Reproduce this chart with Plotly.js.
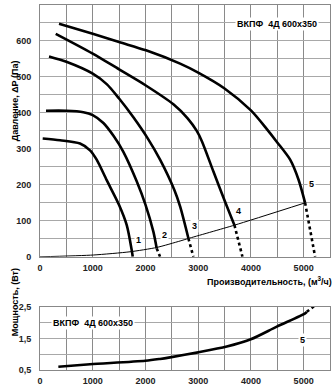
<!DOCTYPE html>
<html>
<head>
<meta charset="utf-8">
<script src="https://cdn.plot.ly/plotly-3.0.1.min.js"></script>
<style>
html,body{margin:0;padding:0;background:#fff;}
#chart{width:334px;height:387px;}
</style>
</head>
<body>
<div id="chart"></div>
<script>
// ---- Data ----
const flowTicks = [0, 1000, 2000, 3000, 4000, 5000];
const pressureTicks = [0, 100, 200, 300, 400, 500, 600];
const powerTicks = [0.5, 1.5, 2.5];
const powerTickText = ['0,5', '1,5', '2,5'];

const curve1Flow = [51, 380, 759, 949, 1075, 1265, 1500, 1645, 1739, 1759];
const curve1Pressure = [329, 324, 315, 296, 270, 213, 144, 88, 19, 0];

const curve2Flow = [114, 500, 822, 1000, 1202, 1400, 1581, 1834, 2000, 2150, 2214];
const curve2Pressure = [406, 406, 402, 394, 372, 335, 292, 210, 145, 70, 23];
const curve2DotFlow = [2214, 2277];
const curve2DotPressure = [23, 0];

const curve3Flow = [171, 500, 1000, 1265, 1500, 1771, 2040, 2277, 2550, 2657, 2815];
const curve3Pressure = [557, 542, 509, 480, 440, 388, 330, 270, 185, 140, 51];
const curve3DotFlow = [2815, 2909];
const curve3DotPressure = [51, 0];

const curve4Flow = [298, 1000, 1500, 2000, 2530, 2800, 2973, 3068, 3289, 3510, 3688];
const curve4Pressure = [620, 565, 521, 477, 424, 385, 350, 322, 237, 153, 88];
const curve4DotFlow = [3688, 3840];
const curve4DotPressure = [88, 0];

const curve5Flow = [361, 1000, 1500, 2011, 2657, 3000, 3500, 4000, 4302, 4500, 4744, 4902, 5028];
const curve5Pressure = [648, 620, 597, 574, 537, 512, 468, 407, 355, 318, 270, 215, 150];
const curve5DotFlow = [5028, 5123, 5218];
const curve5DotPressure = [150, 74, 0];

const systemFlow = [0, 1012, 1708, 2214, 2657, 2815, 3688, 5028];
const systemPressure = [0, 5, 14, 26, 44, 51, 88, 150];

const powerFlow = [348, 949, 1998, 2277, 2467, 2973, 3542, 3998, 4491, 5028, 5060];
const powerValue = [0.605, 0.68, 0.79, 0.85, 0.90, 1.05, 1.24, 1.47, 1.87, 2.29, 2.34];
const powerDotFlow = [5060, 5199];
const powerDotValue = [2.34, 2.52];

const curveLabels = ['1', '2', '3', '4', '5'];
const curveLabelFlow = [1860, 2366, 2922, 3763, 5142];
const curveLabelPressure = [46, 60, 85, 127, 202];

const modelName = 'ВКПФ  4Д 600x350';

// ---- Styling / build ----
const LW = 2.6;
function solid(x, y, ax) {
  return {x: x, y: y, xaxis: ax[0], yaxis: ax[1], mode: 'lines', type: 'scatter',
    line: {color: '#000', width: LW, shape: 'spline', smoothing: 0.8}, hoverinfo: 'skip', cliponaxis: false};
}
function dotted(x, y, ax) {
  return {x: x, y: y, xaxis: ax[0], yaxis: ax[1], mode: 'lines', type: 'scatter',
    line: {color: '#000', width: LW, dash: 'dot'}, hoverinfo: 'skip', cliponaxis: false};
}
const axTop = ['x', 'y'], axBot = ['x2', 'y2'];
const traces = [
  {x: systemFlow, y: systemPressure, xaxis: 'x', yaxis: 'y', mode: 'lines', type: 'scatter',
   line: {color: '#000', width: 1, shape: 'spline', smoothing: 0.6}, hoverinfo: 'skip'},
  solid(curve1Flow, curve1Pressure, axTop),
  solid(curve2Flow, curve2Pressure, axTop), dotted(curve2DotFlow, curve2DotPressure, axTop),
  solid(curve3Flow, curve3Pressure, axTop), dotted(curve3DotFlow, curve3DotPressure, axTop),
  solid(curve4Flow, curve4Pressure, axTop), dotted(curve4DotFlow, curve4DotPressure, axTop),
  solid(curve5Flow, curve5Pressure, axTop), dotted(curve5DotFlow, curve5DotPressure, axTop),
  solid(powerFlow, powerValue, axBot), dotted(powerDotFlow, powerDotValue, axBot)
];

const FONT = 'Liberation Sans, Arial, sans-serif';
const tickFont = {family: FONT, size: 9, color: '#222', weight: 'bold'};
const gridX = '#8a8a8a', gridY = '#a8a8a8';

function xAxis(anchor) {
  return {domain: [0, 1], anchor: anchor, range: [0, 5500], tickmode: 'array', tickvals: flowTicks,
    showgrid: true, gridcolor: gridX, gridwidth: 1, zeroline: false,
    showline: true, mirror: true, linecolor: '#888', linewidth: 1, ticks: '',
    minor: {dtick: 500, tick0: 0, showgrid: true, gridcolor: gridX, gridwidth: 1},
    tickfont: tickFont, ticklabelstandoff: 2, fixedrange: true};
}

const annotations = [];
for (let i = 0; i < curveLabels.length; i++) {
  annotations.push({x: curveLabelFlow[i], y: curveLabelPressure[i], xref: 'x', yref: 'y',
    text: curveLabels[i], showarrow: false, bgcolor: '#fff', borderpad: 1,
    font: {family: FONT, size: 9, color: '#000', weight: 'bold'}});
}
annotations.push({x: 4491, y: 648, xref: 'x', yref: 'y', text: modelName, showarrow: false,
  bgcolor: '#fff', borderpad: 1, font: {family: FONT, size: 9, color: '#000', weight: 'bold'}});
annotations.push({x: 1006, y: 2.0, xref: 'x2', yref: 'y2', text: modelName, showarrow: false,
  bgcolor: '#fff', borderpad: 1, font: {family: FONT, size: 9, color: '#000', weight: 'bold'}});
annotations.push({x: 4980, y: 1.45, xref: 'x2', yref: 'y2', text: '5', showarrow: false,
  bgcolor: '#fff', borderpad: 1, font: {family: FONT, size: 9, color: '#000', weight: 'bold'}});
annotations.push({x: 1.0138, y: 0.2436, xref: 'paper', yref: 'paper', xanchor: 'right', yanchor: 'middle',
  text: 'Производительность, (м<sup>3</sup>/ч)', showarrow: false,
  font: {family: FONT, size: 9, color: '#000', weight: 'bold'}});
annotations.push({x: -0.11, y: 0.853, xref: 'paper', yref: 'paper', textangle: -90,
  text: 'Давление, ΔP (Па)', showarrow: false, font: {family: FONT, size: 9, color: '#000', weight: 'bold'}});
annotations.push({x: -0.11, y: 0.0876, xref: 'paper', yref: 'paper', textangle: -90,
  text: 'Мощность, (Вт)', showarrow: false, font: {family: FONT, size: 9, color: '#000', weight: 'bold'}});

const layout = {
  width: 334, height: 387,
  margin: {l: 40, r: 4, t: 4.7, b: 17, pad: 0},
  paper_bgcolor: '#fff', plot_bgcolor: '#fff',
  showlegend: false,
  xaxis: xAxis('y'),
  xaxis2: xAxis('y2'),
  yaxis: {domain: [0.3101, 1], anchor: 'x', range: [0, 700], tickmode: 'array', tickvals: pressureTicks,
    showgrid: true, gridcolor: gridY, gridwidth: 1, zeroline: false,
    showline: true, mirror: true, linecolor: '#888', linewidth: 1, ticks: '',
    minor: {dtick: 50, tick0: 0, showgrid: true, gridcolor: gridY, gridwidth: 1},
    tickfont: tickFont, ticklabelstandoff: 6, fixedrange: true},
  yaxis2: {domain: [0, 0.1733], anchor: 'x2', range: [0.5, 2.5], tickmode: 'array', tickvals: powerTicks,
    ticktext: powerTickText,
    showgrid: true, gridcolor: gridY, gridwidth: 1, zeroline: false,
    showline: true, mirror: true, linecolor: '#888', linewidth: 1, ticks: '',
    minor: {dtick: 0.5, tick0: 0.5, showgrid: true, gridcolor: gridY, gridwidth: 1},
    tickfont: tickFont, ticklabelstandoff: 6, fixedrange: true},
  annotations: annotations
};

Plotly.newPlot('chart', traces, layout, {displayModeBar: false, staticPlot: true});
</script>
</body>
</html>
